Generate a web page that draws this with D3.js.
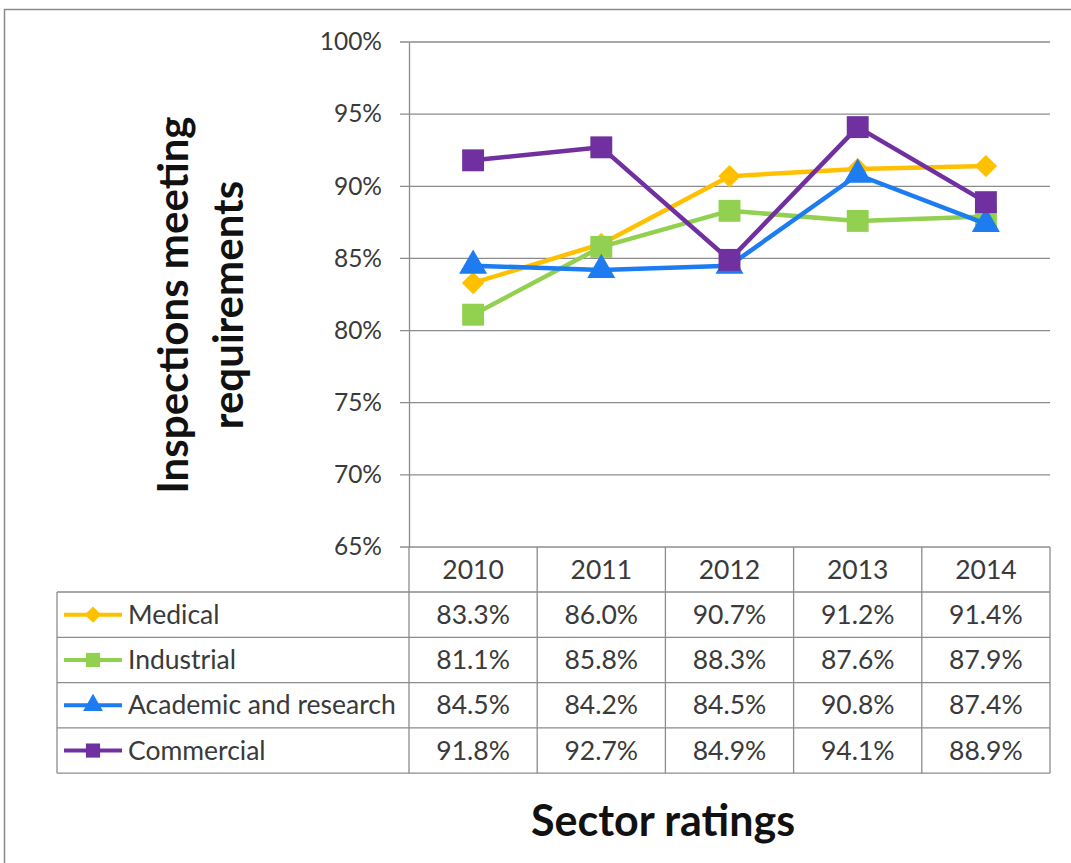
<!DOCTYPE html>
<html><head><meta charset="utf-8">
<script src="https://cdn.jsdelivr.net/npm/d3@7"></script>
<style>body{margin:0;background:#fff;} svg{display:block;}</style>
</head><body>
<script>
const years = ["2010","2011","2012","2013","2014"];
const seriesNames = ["Medical","Industrial","Academic and research","Commercial"];
const medical = [83.3, 86.0, 90.7, 91.2, 91.4];
const industrial = [81.1, 85.8, 88.3, 87.6, 87.9];
const academic = [84.5, 84.2, 84.5, 90.8, 87.4];
const commercial = [91.8, 92.7, 84.9, 94.1, 88.9];
const yTicks = [65, 70, 75, 80, 85, 90, 95, 100];
const colors = ["#FFC000", "#92D050", "#1C7CF0", "#7030A0"];
const symbols = [d3.symbolDiamond2, d3.symbolSquare, d3.symbolTriangle, d3.symbolSquare];
const values = [medical, industrial, academic, commercial];

const W = 1071, H = 863;
const font = "Lato, 'Open Sans', sans-serif";
const svg = d3.select("body").append("svg").attr("width", W).attr("height", H);

// outer border
svg.append("path").attr("d", `M4.5,${H} L4.5,9.5 L${W},9.5`).attr("fill","none").attr("stroke","#8a8a8a").attr("stroke-width",1.5);

const plotL = 409, plotR = 1050, plotT = 42, plotB = 547;
const x = d3.scaleBand().domain(years).range([plotL, plotR]);
const y = d3.scaleLinear().domain([65, 100]).range([plotB, plotT]);

// gridlines
svg.append("g").selectAll("line").data(yTicks).join("line")
  .attr("x1", plotL - 9).attr("x2", plotR)
  .attr("y1", d => y(d)).attr("y2", d => y(d))
  .attr("stroke", "#8c8c8c").attr("stroke-width", 1.3);

// y axis
const yAxis = d3.axisLeft(y).tickValues(yTicks).tickFormat(d => d + "%").tickSize(0).tickPadding(27);
const ga = svg.append("g").attr("transform", `translate(${plotL},0)`).call(yAxis);
ga.select(".domain").attr("stroke", "#8c8c8c").attr("stroke-width", 1.3);
ga.selectAll("text").attr("font-family", font).attr("font-size", 24.5).attr("fill", "#3a3a3a");

// table
const rowH = 45.3;
const headT = plotB, headB = plotB + 45;
const tableB = headB + rowH * 4;
const tg = svg.append("g");
const lineC = "#8c8c8c";
const fs = 26.5;
years.forEach((yr, i) => {
  const x0 = x(yr);
  tg.append("line").attr("x1", x0).attr("x2", x0).attr("y1", headT).attr("y2", tableB).attr("stroke", lineC).attr("stroke-width", 1.3);
});
tg.append("line").attr("x1", plotR).attr("x2", plotR).attr("y1", headT).attr("y2", tableB).attr("stroke", lineC).attr("stroke-width", 1.3);
tg.append("line").attr("x1", 57).attr("x2", 57).attr("y1", headB).attr("y2", tableB).attr("stroke", lineC).attr("stroke-width", 1.3);
for (let r = 0; r <= 4; r++) {
  const yy = headB + r * rowH;
  tg.append("line").attr("x1", 57).attr("x2", plotR).attr("y1", yy).attr("y2", yy).attr("stroke", lineC).attr("stroke-width", 1.3);
}
tg.selectAll("text.hdr").data(years).join("text").attr("class","hdr")
  .attr("x", d => x(d) + x.bandwidth()/2).attr("y", (headT + headB)/2 + 9)
  .attr("text-anchor", "middle").attr("font-family", font).attr("font-size", fs).attr("fill", "#3a3a3a").text(d => d);
seriesNames.forEach((name, si) => {
  const cy = headB + si * rowH + rowH/2;
  tg.append("line").attr("x1", 64).attr("x2", 122).attr("y1", cy).attr("y2", cy).attr("stroke", colors[si]).attr("stroke-width", 4);
  tg.append("path").attr("transform", `translate(93,${cy})`)
    .attr("d", d3.symbol().type(symbols[si]).size(si === 2 ? 170 : (si === 0 ? 170 : 200))()).attr("fill", colors[si]);
  tg.append("text").attr("x", 128).attr("y", cy + 9).attr("font-family", font).attr("font-size", fs).attr("fill", "#3a3a3a").text(name);
  values[si].forEach((v, i) => {
    tg.append("text").attr("x", x(years[i]) + x.bandwidth()/2).attr("y", cy + 9)
      .attr("text-anchor", "middle").attr("font-family", font).attr("font-size", fs).attr("fill", "#3a3a3a").text(v.toFixed(1) + "%");
  });
});

// lines & markers
const line = d3.line().x((d, i) => x(years[i]) + x.bandwidth()/2).y(d => y(d));
values.forEach((vals, si) => {
  const g = svg.append("g");
  g.append("path").datum(vals).attr("d", line).attr("fill", "none").attr("stroke", colors[si]).attr("stroke-width", 4.5).attr("stroke-linejoin", "round");
  g.selectAll("path.m").data(vals).join("path").attr("class", "m")
    .attr("transform", (d, i) => `translate(${x(years[i]) + x.bandwidth()/2},${y(d)})`)
    .attr("d", d3.symbol().type(symbols[si]).size(si === 2 ? 340 : (si === 0 ? 320 : 480))()).attr("fill", colors[si]);
});

// axis titles
const yt = svg.append("text").attr("transform", "translate(202,305) rotate(-90)")
  .attr("text-anchor", "middle").attr("font-family", font).attr("font-weight", "bold").attr("font-size", 42).attr("fill", "#111");
yt.append("tspan").attr("x", 0).attr("dy", -14).text("Inspections meeting");
yt.append("tspan").attr("x", 0).attr("dy", 55).text("requirements");

svg.append("text").attr("x", 663).attr("y", 836).attr("text-anchor", "middle")
  .attr("font-family", font).attr("font-weight", "bold").attr("font-size", 43).attr("fill", "#111").text("Sector ratings");
</script>
</body></html>
